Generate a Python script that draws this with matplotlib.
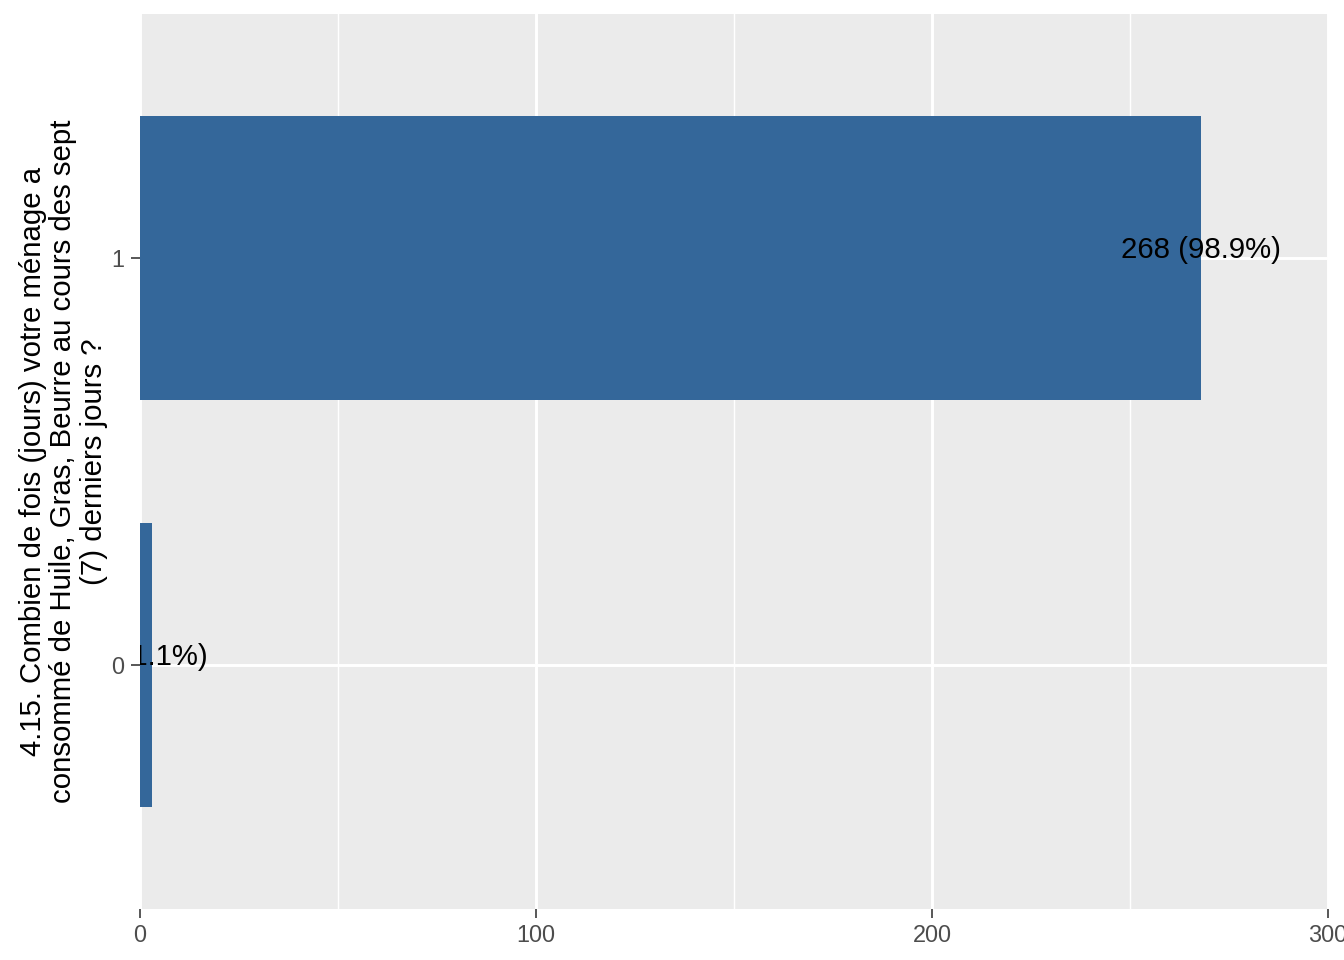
import matplotlib
matplotlib.use("Agg")
import matplotlib.pyplot as plt
from matplotlib.ticker import MultipleLocator

categories = ["0", "1"]
counts = [3, 268]
percents = ["1.1%", "98.9%"]
x_ticks = [0, 100, 200, 300]
y_title = ("4.15. Combien de fois (jours) votre ménage a\n"
           "consommé de Huile, Gras, Beurre au cours des sept\n"
           "(7) derniers jours ?")

plt.rcParams['font.family'] = ['Liberation Sans', 'DejaVu Sans']

fig = plt.figure(figsize=(7, 5), dpi=192)
ax = fig.add_axes([140/1344, 1 - 909/960, (1328-140)/1344, (909-14)/960])
ax.set_facecolor("#EBEBEB")

pos = list(range(len(categories)))
ax.barh(pos, counts, height=0.7, color="#34679A", zorder=3)
for p, c, pc in zip(pos, counts, percents):
    ax.text(c, p, f"{c} ({pc})", ha="center", va="baseline", fontsize=11,
            color="black", zorder=4, clip_on=True)

ax.set_xlim(0, 300)
ax.set_ylim(-0.6, 1.6)
ax.set_xticks(x_ticks)
ax.xaxis.set_minor_locator(MultipleLocator(50))
ax.set_yticks(pos)
ax.set_yticklabels(categories)
ax.grid(which="major", color="white", linewidth=1.1, zorder=0)
ax.grid(which="minor", axis="x", color="white", linewidth=0.55, zorder=0)
ax.set_axisbelow(True)
for s in ax.spines.values():
    s.set_visible(False)
ax.tick_params(axis="both", which="major", length=3.3, width=0.6, color="#333333",
               labelsize=8.8, labelcolor="#4D4D4D", pad=2.5)
ax.tick_params(axis="both", which="minor", length=0)
ax.set_ylabel(y_title, fontsize=11, color="black", linespacing=1.1, labelpad=1.5)

fig.savefig("out.png", dpi=192)
